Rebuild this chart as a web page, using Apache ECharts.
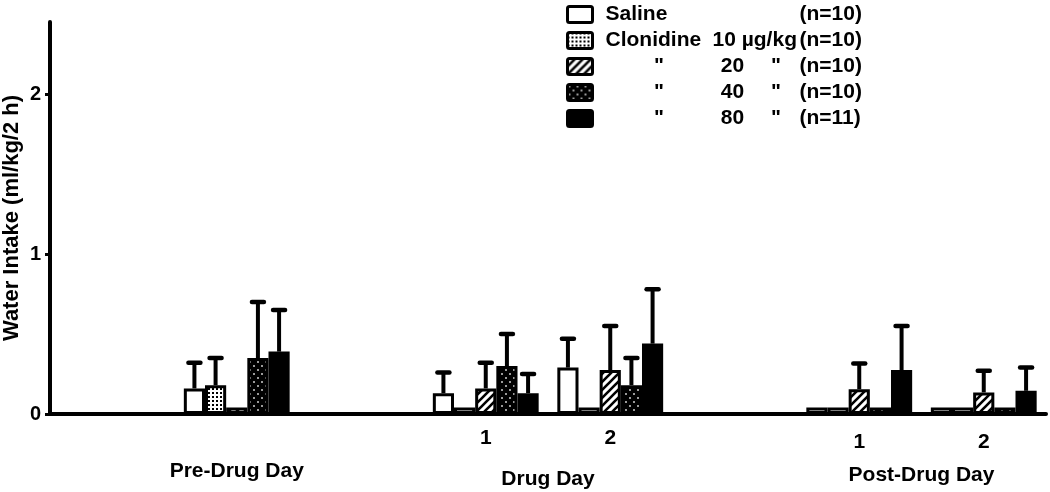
<!DOCTYPE html>
<html>
<head>
<meta charset="utf-8">
<script src="https://cdn.jsdelivr.net/npm/echarts@6/dist/echarts.min.js"></script>
<style>html,body{margin:0;padding:0;background:#fff;}#c{width:1050px;height:492px;}</style>
</head>
<body>
<div id="c"></div>
<script>
// ---- data ----
const categories = ['blank0', 'Pre-Drug', 'blank2', 'Drug 1', 'Drug 2', 'blank5', 'Post 1', 'Post 2'];
const tickLabels = ['', '', '', '1', '2', '', '1', '2'];
const groupLabels = ['Pre-Drug Day', 'Drug Day', 'Post-Drug Day'];
const groupLabelAt = [1.5, 4, 7];
const yTicks = [0, 1, 2];

const seriesNames = ['Saline', 'Clonidine 10 µg/kg', '20 µg/kg', '40 µg/kg', '80 µg/kg'];
const seriesN = ['(n=10)', '(n=10)', '(n=10)', '(n=10)', '(n=11)'];

const saline    = [null, 0.16, null, 0.13, 0.29,  null, 0.04,  0.04];
const salineSD  = [null, 0.16, null, 0.13, 0.18,  null, 0,     0];
const clon10    = [null, 0.18, null, 0.04, 0.04,  null, 0.04,  0.04];
const clon10SD  = [null, 0.17, null, 0,    0,     null, 0,     0];
const clon20    = [null, 0.04, null, 0.16, 0.275, null, 0.155, 0.135];
const clon20SD  = [null, 0,    null, 0.16, 0.275, null, 0.16,  0.135];
const clon40    = [null, 0.35, null, 0.30, 0.18,  null, 0.04,  0.04];
const clon40SD  = [null, 0.35, null, 0.20, 0.17,  null, 0,     0];
const clon80    = [null, 0.39, null, 0.13, 0.44,  null, 0.275, 0.145];
const clon80SD  = [null, 0.26, null, 0.12, 0.34,  null, 0.275, 0.145];

const means = [saline, clon10, clon20, clon40, clon80];
const sds = [salineSD, clon10SD, clon20SD, clon40SD, clon80SD];

// ---- patterns ----
function tile(w, h, draw) {
  const c = document.createElement('canvas');
  c.width = w; c.height = h;
  const g = c.getContext('2d');
  draw(g, w, h);
  return { image: c, repeat: 'repeat' };
}
const fills = [
  '#ffffff',
  tile(4, 4, (g) => { g.fillStyle = '#fff'; g.fillRect(0, 0, 4, 4); g.fillStyle = '#000'; g.fillRect(0, 0, 2, 2); }),
  tile(8, 8, (g) => {
    g.fillStyle = '#fff'; g.fillRect(0, 0, 8, 8);
    g.strokeStyle = '#000'; g.lineWidth = 2.6;
    g.beginPath();
    g.moveTo(-2, 10); g.lineTo(10, -2);
    g.moveTo(-6, 6); g.lineTo(6, -6);
    g.moveTo(2, 14); g.lineTo(14, 2);
    g.stroke();
  }),
  tile(8, 8, (g) => { g.fillStyle = '#000'; g.fillRect(0, 0, 8, 8); g.fillStyle = '#9a9a9a'; g.fillRect(1, 1, 2, 2); g.fillRect(5, 5, 2, 2); }),
  '#000000'
];

const FONT = '"Liberation Sans", Arial, sans-serif';
const GAP = 0.15;

const series = [];
means.forEach((arr, k) => {
  series.push({
    name: seriesNames[k],
    type: 'bar',
    xAxisIndex: 0,
    barGap: '0%',
    barCategoryGap: (GAP * 100) + '%',
    data: arr.map(v => v == null ? '-' : v),
    itemStyle: { color: fills[k], borderColor: '#000', borderWidth: 3 },
    emphasis: { disabled: true },
    z: 2
  });
});
means.forEach((arr, k) => {
  const d = [];
  arr.forEach((v, i) => { if (v != null && sds[k][i] > 0) d.push([i, v, v + sds[k][i]]); });
  series.push({
    type: 'custom',
    xAxisIndex: 0,
    z: 3,
    silent: true,
    data: d,
    renderItem: function (params, api) {
      const cat = api.value(0), m = api.value(1), up = api.value(2);
      const band = api.size([1, 0])[0];
      const gw = band * (1 - GAP);
      const bw = gw / 5;
      const b = api.coord([cat, m]);
      const t = api.coord([cat, up]);
      const x = b[0] - gw / 2 + bw * (k + 0.5);
      return {
        type: 'group',
        children: [
          { type: 'line', shape: { x1: x, y1: b[1], x2: x, y2: t[1] }, style: { stroke: '#000', lineWidth: 4 } },
          { type: 'line', shape: { x1: x - 6, y1: t[1], x2: x + 6, y2: t[1] }, style: { stroke: '#000', lineWidth: 4.5, lineCap: 'round' } }
        ]
      };
    }
  });
});

const R = (extra) => Object.assign({ fontFamily: FONT, fontWeight: 'bold', fontSize: 21, color: '#000' }, extra || {});

const chart = echarts.init(document.getElementById('c'), null, { renderer: 'canvas' });
chart.setOption({
  animation: false,
  backgroundColor: '#fff',
  grid: { left: 50, right: 4, top: 22, bottom: 78, containLabel: false, outerBoundsMode: 'none' },
  legend: {
    data: seriesNames,
    orient: 'vertical',
    left: 566, top: 4, padding: 0,
    itemWidth: 25, itemHeight: 16, itemGap: 5,
    icon: 'path://M2,0 L23,0 Q25,0 25,2 L25,14 Q25,16 23,16 L2,16 Q0,16 0,14 L0,2 Q0,0 2,0 Z',
    itemStyle: { borderColor: '#000', borderWidth: 3 },
    selectedMode: false,
    formatter: function (name) {
      const i = seriesNames.indexOf(name);
      const n = seriesN[i];
      if (i === 0) return '{nm|Saline}{n|' + n + '}';
      if (i === 1) return '{c|Clonidine }{u|10 µg/kg}{n|' + n + '}';
      const dose = name.split(' ')[0];
      return '{q|"}{d|' + dose + '}{q2|"}{n|' + n + '}';
    },
    textStyle: {
      fontFamily: FONT, fontWeight: 'bold', fontSize: 21, color: '#000',
      rich: {
        nm: R({ width: 194, padding: [0, 0, 0, 8] }),
        c: R({ width: 107, padding: [0, 0, 0, 8] }),
        u: R({ width: 87 }),
        q: R({ width: 107, align: 'center', padding: [0, 0, 0, 8] }),
        d: R({ width: 40 }),
        q2: R({ width: 47, align: 'center' }),
        n: R()
      }
    }
  },
  xAxis: [
    {
      type: 'category',
      data: categories,
      position: 'bottom',
      axisLine: { show: true, lineStyle: { color: '#000', width: 4 } },
      axisTick: { show: false },
      splitLine: { show: false },
      axisLabel: {
        interval: 0,
        margin: 14,
        formatter: function (v, i) {
          const t = tickLabels[i];
          if (!t) return '';
          return i >= 6 ? '{p|' + t + '}' : '{d|' + t + '}';
        },
        rich: {
          d: { fontFamily: FONT, fontWeight: 'bold', fontSize: 21, color: '#000' },
          p: { fontFamily: FONT, fontWeight: 'bold', fontSize: 21, color: '#000', padding: [4, 0, 0, 0] }
        }
      }
    },
    {
      type: 'value',
      min: 0, max: 8,
      position: 'bottom',
      axisLine: { show: false },
      axisTick: { show: false },
      splitLine: { show: false },
      axisLabel: {
        customValues: groupLabelAt,
        margin: 47,
        formatter: function (v) {
          const i = groupLabelAt.indexOf(v);
          if (i < 0) return '';
          return '{g' + i + '|' + groupLabels[i] + '}';
        },
        rich: {
          g0: { fontFamily: FONT, fontWeight: 'bold', fontSize: 21, color: '#000' },
          g1: { fontFamily: FONT, fontWeight: 'bold', fontSize: 21, color: '#000', padding: [8, 0, 0, 0] },
          g2: { fontFamily: FONT, fontWeight: 'bold', fontSize: 21, color: '#000', padding: [4, 0, 0, 0] }
        }
      }
    }
  ],
  yAxis: {
    type: 'value',
    min: 0, max: 2.45,
    interval: 1,
    name: 'Water Intake (ml/kg/2 h)',
    nameLocation: 'middle',
    nameGap: 27,
    nameMoveOverlap: false,
    nameTextStyle: { fontFamily: FONT, fontWeight: 'bold', fontSize: 22, color: '#000' },
    axisLine: { show: true, lineStyle: { color: '#000', width: 4 } },
    axisTick: { show: true, length: 5, customValues: yTicks, lineStyle: { color: '#000', width: 3 } },
    axisLabel: { customValues: yTicks, margin: 9, fontFamily: FONT, fontWeight: 'bold', fontSize: 20, color: '#000' },
    splitLine: { show: false }
  },
  series: series
});
</script>
</body>
</html>
